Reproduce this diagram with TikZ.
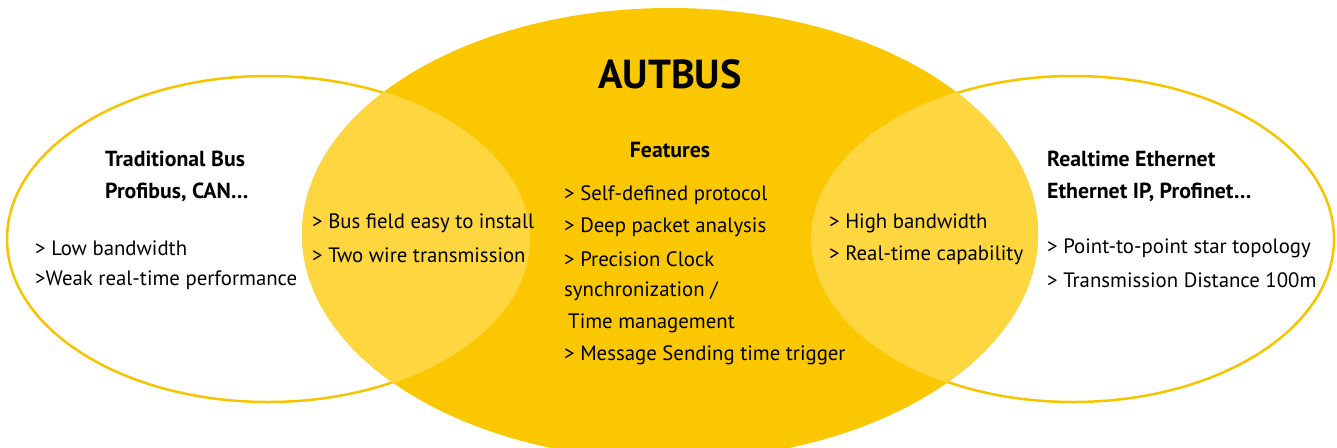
\documentclass[tikz,border=0pt]{standalone}
\usepackage{fontspec}
\setmainfont{PT Sans}
\definecolor{coreY}{HTML}{FAC700}
\definecolor{lightY}{HTML}{FDD640}
\definecolor{lineY}{HTML}{F7C500}
\begin{document}
\begin{tikzpicture}[x=1pt,y=-1pt,
  txt/.style={anchor=west,inner sep=0pt,font=\fontsize{20.8}{20.8}\selectfont},
  hdr/.style={anchor=west,inner sep=0pt,font=\fontsize{21.8}{21.8}\selectfont\bfseries}]
\useasboundingbox (0,0) rectangle (1337,447);
\fill[white] (0,0) rectangle (1337,447);
% side ellipses outlines
\draw[lineY,line width=2.5pt] (268,239) ellipse [x radius=261,y radius=163];
\draw[lineY,line width=2.5pt] (1073,239) ellipse [x radius=261,y radius=163];
% central ellipse
\fill[coreY] (670,234) ellipse [x radius=368,y radius=226];
\begin{scope}
\clip (670,234) ellipse [x radius=368,y radius=226];
\fill[lightY] (268,239) ellipse [x radius=262,y radius=164];
\fill[lightY] (1073,239) ellipse [x radius=262,y radius=164];
\end{scope}
% center text
\node[anchor=center,inner sep=0pt,font=\fontsize{40.5}{40.5}\selectfont\bfseries] (title) at (670,74) {AUTBUS};
\node[anchor=center,inner sep=0pt,font=\fontsize{21.8}{21.8}\selectfont\bfseries] (feat) at (670,150) {Features};
\node[txt] (c1) at (564,195) {> Self-defined protocol};
\node[txt] (c2) at (564,227) {> Deep packet analysis};
\node[txt] (c3) at (564,259) {> Precision Clock};
\node[txt] (c4) at (564,291) {synchronization /};
\node[txt] (c5) at (568,323) {Time management};
\node[txt] (c6) at (564,355) {> Message Sending time trigger};
% overlaps
\node[txt] (l1) at (312,223) {> Bus field easy to install};
\node[txt] (l2) at (312,255) {> Two wire transmission};
\node[txt] (r1) at (829,223) {> High bandwidth};
\node[txt] (r2) at (829,255) {> Real-time capability};
% left
\node[hdr] (lh1) at (105,159) {Traditional Bus};
\node[hdr] (lh2) at (105,192) {Profibus, CAN…};
\node[txt] (lt1) at (35,248) {> Low bandwidth};
\node[txt] (lt2) at (35,280) {>Weak real-time performance};
% right
\node[hdr] (rh1) at (1047,159) {Realtime Ethernet};
\node[hdr] (rh2) at (1047,192) {Ethernet IP, Profinet…};
\node[txt] (rt1) at (1047,248) {> Point-to-point star topology};
\node[txt] (rt2) at (1047,280) {> Transmission Distance 100m};
\end{tikzpicture}
\end{document}
